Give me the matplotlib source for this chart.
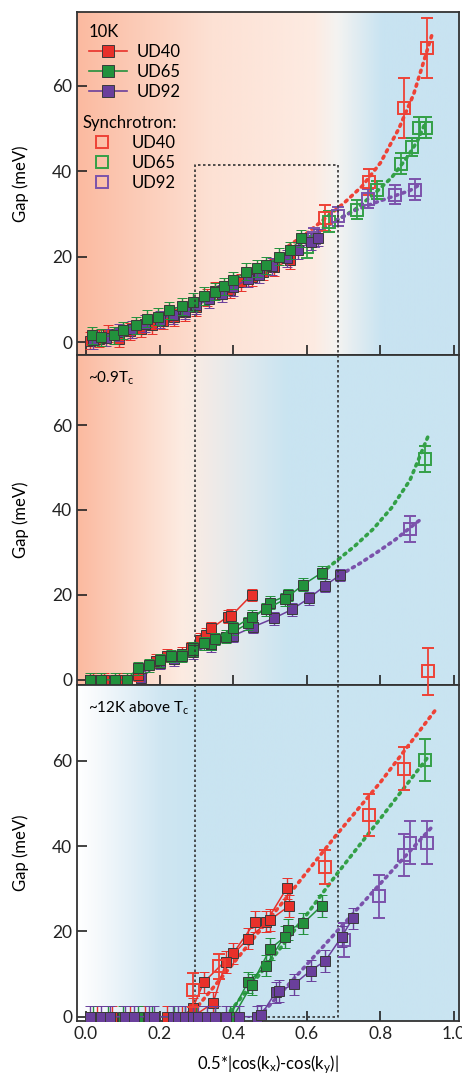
import numpy as np
import matplotlib
matplotlib.use("Agg")
import matplotlib.pyplot as plt
from matplotlib.colors import LinearSegmentedColormap
from matplotlib.lines import Line2D

plt.rcParams['font.family'] = ['Lato', 'DejaVu Sans']
plt.rcParams['mathtext.fontset'] = 'custom'
plt.rcParams['mathtext.rm'] = 'Lato'
plt.rcParams['mathtext.it'] = 'Lato:italic'

# ---- dados: painel 10K ----
top_ud40_x = [0.01, 0.035, 0.06, 0.09, 0.12, 0.15, 0.18, 0.21, 0.24, 0.27, 0.30, 0.33, 0.35, 0.39, 0.42, 0.45, 0.48, 0.51, 0.555]
top_ud40_y = [0.3, 0.8, 2.0, 0.8, 2.5, 3.2, 4.0, 5.0, 5.8, 7.0, 8.2, 10.5, 12.0, 12.3, 14.0, 15.2, 16.5, 17.5, 19.2]
top_ud65_x = [0.015, 0.04, 0.075, 0.10, 0.135, 0.165, 0.195, 0.225, 0.26, 0.29, 0.32, 0.35, 0.375, 0.40, 0.435, 0.465, 0.49, 0.525, 0.555, 0.585]
top_ud65_y = [1.6, 1.1, 1.6, 2.8, 4.0, 5.5, 6.0, 7.5, 8.4, 9.4, 10.8, 11.8, 13.1, 14.5, 16.5, 17.3, 18.0, 20.0, 21.5, 24.3]
top_ud92_x = [0.02, 0.055, 0.09, 0.125, 0.16, 0.20, 0.235, 0.27, 0.30, 0.335, 0.37, 0.40, 0.44, 0.47, 0.505, 0.545, 0.575, 0.61, 0.63]
top_ud92_y = [0.5, 1.0, 2.3, 3.0, 4.3, 5.3, 6.3, 7.4, 8.6, 10.0, 11.3, 12.8, 14.8, 15.8, 17.8, 19.6, 21.5, 23.5, 24.5]

syn_top_ud40_x = [0.65, 0.77, 0.865, 0.927]
syn_top_ud40_y = [29.0, 37.5, 54.8, 68.8]
syn_top_ud40_e = [3.0, 3.0, 7.0, 7.0]
syn_top_ud65_x = [0.60, 0.66, 0.735, 0.79, 0.855, 0.885, 0.905, 0.925]
syn_top_ud65_y = [22.3, 28.2, 31.0, 35.6, 41.8, 45.7, 50.2, 50.2]
syn_top_ud65_e = [2.5, 2.5, 2.2, 2.2, 2.5, 2.2, 2.5, 2.5]
syn_top_ud92_x = [0.62, 0.685, 0.765, 0.84, 0.893]
syn_top_ud92_y = [24.5, 29.5, 33.6, 34.5, 35.7]
syn_top_ud92_e = [2.2, 2.2, 2.2, 2.2, 2.5]

fit_top_ud40_x = [0.55, 0.60, 0.65, 0.70, 0.75, 0.80, 0.85, 0.89, 0.94]
fit_top_ud40_y = [22.5, 25.5, 29.0, 32.5, 36.5, 42.0, 50.0, 58.0, 72.0]
fit_top_ud65_x = [0.58, 0.63, 0.68, 0.73, 0.78, 0.83, 0.87, 0.90, 0.92]
fit_top_ud65_y = [23.0, 26.0, 28.5, 31.0, 34.5, 38.5, 43.0, 47.0, 51.0]
fit_top_ud92_x = [0.58, 0.63, 0.68, 0.73, 0.78, 0.83, 0.88, 0.905]
fit_top_ud92_y = [23.0, 26.0, 28.5, 30.8, 32.5, 34.0, 35.5, 36.8]

# ---- dados: painel ~0.9Tc ----
mid_ud40_x = [0.02, 0.05, 0.09, 0.14, 0.19, 0.22, 0.26, 0.285, 0.31, 0.325, 0.34, 0.385, 0.395, 0.45]
mid_ud40_y = [0, 0, 0, 1.2, 4.5, 5.7, 6.2, 7.4, 9.5, 10.6, 12.1, 14.9, 15.1, 20.0]
mid_ud65a_x = [0.01, 0.04, 0.08, 0.11, 0.14, 0.17, 0.20, 0.23, 0.26, 0.29, 0.32, 0.35, 0.40, 0.45, 0.49, 0.54, 0.59, 0.64]
mid_ud65a_y = [0, 0, 0, 0, 2.7, 3.4, 4.6, 5.6, 5.6, 7.1, 8.6, 9.6, 12.1, 14.9, 16.6, 19.0, 22.4, 25.2]
mid_ud65b_x = [0.29, 0.34, 0.38, 0.44, 0.50, 0.55]
mid_ud65b_y = [7.5, 8.5, 10.2, 13.3, 18.2, 20.0]
mid_ud92_x = [0.15, 0.20, 0.24, 0.29, 0.34, 0.40, 0.455, 0.51, 0.56, 0.605, 0.65, 0.69]
mid_ud92_y = [0.5, 4.0, 4.8, 6.5, 8.1, 10.4, 12.5, 14.5, 16.6, 19.2, 22.2, 24.7]

syn_mid_ud65_x = [0.92]
syn_mid_ud65_y = [52.0]
syn_mid_ud65_e = [3.0]
syn_mid_ud92_x = [0.88]
syn_mid_ud92_y = [35.5]
syn_mid_ud92_e = [3.0]

fit_mid_ud65_x = [0.64, 0.68, 0.73, 0.78, 0.83, 0.88, 0.93]
fit_mid_ud65_y = [25.2, 28.0, 31.5, 35.5, 40.5, 47.0, 57.5]
fit_mid_ud92_x = [0.69, 0.74, 0.79, 0.84, 0.89, 0.905]
fit_mid_ud92_y = [24.7, 27.2, 30.0, 33.0, 36.5, 37.5]

# ---- dados: painel ~12K acima de Tc ----
bot_ud40a_x = [0.03, 0.07, 0.12, 0.16, 0.22, 0.26, 0.29, 0.32, 0.40, 0.46, 0.49, 0.545]
bot_ud40a_y = [0, 0, 0, 0, 0, 0, 2.0, 8.1, 14.9, 22.3, 22.3, 30.1]
bot_ud40b_x = [0.29, 0.345, 0.38, 0.44, 0.50, 0.552]
bot_ud40b_y = [0, 3.2, 12.8, 18.3, 22.7, 26.0]
bot_ud65a_x = [0.02, 0.06, 0.10, 0.14, 0.18, 0.24, 0.27, 0.30, 0.35, 0.39, 0.44, 0.49, 0.55, 0.59, 0.64]
bot_ud65a_y = [0, 0, 0, 0, 0, 0, 0, 0, 0, 0, 8.1, 12.0, 20.4, 21.9, 26.0]
bot_ud65b_x = [0.40, 0.45, 0.50, 0.54]
bot_ud65b_y = [0, 7.5, 15.9, 18.7]
bot_ud92_x = [0.01, 0.04, 0.065, 0.105, 0.13, 0.17, 0.185, 0.235, 0.25, 0.27, 0.29, 0.305, 0.33, 0.35,
              0.38, 0.415, 0.465, 0.475, 0.515, 0.525, 0.565, 0.61, 0.65, 0.695, 0.725]
bot_ud92_y = [0, 0, 0, 0, 0, 0, 0, 0, 0, 0, 0, 0, 0, 0,
              0, 0, 0, 0.3, 5.7, 6.0, 7.6, 10.8, 13.1, 18.8, 23.1]

syn_bot_ud40_x = [0.29, 0.36, 0.65, 0.77, 0.865, 0.93]
syn_bot_ud40_y = [6.3, 11.8, 35.2, 47.3, 58.2, 81.0]
syn_bot_ud40_e = [4.0, 3.0, 4.0, 5.0, 5.0, 5.5]
syn_bot_ud65_x = [0.92]
syn_bot_ud65_y = [60.2]
syn_bot_ud65_e = [5.0]
syn_bot_ud92_x = [0.70, 0.795, 0.865, 0.88, 0.927]
syn_bot_ud92_y = [18.0, 28.2, 37.9, 40.8, 40.8]
syn_bot_ud92_e = [4.0, 5.0, 5.0, 5.0, 5.0]

fit_bot_ud40_x = [0.28, 0.40, 0.55, 0.68, 0.80, 0.95]
fit_bot_ud40_y = [0, 12.5, 28.5, 42.6, 55.0, 72.0]
fit_bot_ud65_x = [0.38, 0.50, 0.60, 0.68, 0.80, 0.93]
fit_bot_ud65_y = [0, 13.0, 24.0, 33.3, 46.5, 61.0]
fit_bot_ud92_x = [0.47, 0.55, 0.65, 0.75, 0.85, 0.94]
fit_bot_ud92_y = [0, 7.5, 17.0, 26.5, 36.0, 44.5]

# retangulo pontilhado
box_x = [0.295, 0.685]
box_top = 41.5

# ---- estilo ----
RED, GREEN, PURPLE = '#e8302a', '#22913c', '#6a3f9c'
RED_O, GREEN_O, PURPLE_O = '#ee4236', '#33a047', '#7b52ab'
EDGE = '#3a3a3a'

fig = plt.figure(figsize=(4.62, 10.78), dpi=100)
ax1 = fig.add_axes([0.1667, 0.6707, 0.827, 0.3182])
ax2 = fig.add_axes([0.1667, 0.3646, 0.827, 0.3061])
ax3 = fig.add_axes([0.1667, 0.0529, 0.827, 0.3117])
axes = [ax1, ax2, ax3]
ylims = [(-3.0, 77.3), (-1.2, 76.5), (-1.0, 77.8)]
xlim = (-0.0245, 1.0136)

# gradientes de fundo
grads = [
    [(0.0, '#fbbaa0'), (0.35, '#fde1d4'), (0.62, '#fdebe2'), (0.68, '#f4f3f1'), (0.80, '#c8e3f1'), (1.0, '#c8e3f1')],
    [(0.0, '#fbbaa0'), (0.27, '#fdebe1'), (0.33, '#f4ebe6'), (0.45, '#dde9ef'), (0.55, '#c9e4f1'), (1.0, '#c9e4f1')],
    [(0.0, '#ffffff'), (0.06, '#f4f8fb'), (0.22, '#cfe6f2'), (0.30, '#c9e4f1'), (1.0, '#c9e4f1')],
]
for ax, yl, g in zip(axes, ylims, grads):
    cmap = LinearSegmentedColormap.from_list('bg', g)
    xs = np.linspace(0, 1, 600)
    ax.imshow(xs[None, :], cmap=cmap, aspect='auto', origin='lower',
              extent=[xlim[0], xlim[1], yl[0], yl[1]], zorder=0, vmin=0, vmax=1)
    ax.set_xlim(*xlim)
    ax.set_ylim(*yl)
    ax.set_yticks([0, 20, 40, 60])
    ax.set_xticks([0.0, 0.2, 0.4, 0.6, 0.8, 1.0])
    ax.tick_params(direction='in', length=7, width=1.2, labelsize=12.5, colors='#222222')
    for s in ax.spines.values():
        s.set_linewidth(1.3)
        s.set_color('#333333')
    ax.set_ylabel('Gap (meV)', fontsize=12)
    ax.yaxis.set_label_coords(-0.125, 0.5)


def filled(ax, x, y, c, err, z):
    ax.errorbar(x, y, yerr=err, fmt='s-', color=c, ms=7, mec=EDGE, mew=0.7,
                lw=1.1, elinewidth=1.0, capsize=3.5, capthick=1.0, zorder=z)


def opened(ax, x, y, e, c, z=5, clip=True):
    eb = ax.errorbar(x, y, yerr=e, fmt='s', color=c, ms=9, mfc='none', mec=c, mew=1.4,
                     elinewidth=1.3, capsize=4, capthick=1.3, zorder=z)
    if not clip:
        for art in eb.get_children():
            art.set_clip_on(False)


def fit(ax, x, y, c):
    ax.plot(x, y, color=c, lw=2.6, ls=(0, (0.6, 1.4)), dash_capstyle='round', zorder=4)


# painel 10K
filled(ax1, top_ud40_x, top_ud40_y, RED, 2.0, 6)
filled(ax1, top_ud92_x, top_ud92_y, PURPLE, 2.0, 7)
filled(ax1, top_ud65_x, top_ud65_y, GREEN, 2.0, 8)
fit(ax1, fit_top_ud40_x, fit_top_ud40_y, RED_O)
fit(ax1, fit_top_ud65_x, fit_top_ud65_y, GREEN_O)
fit(ax1, fit_top_ud92_x, fit_top_ud92_y, PURPLE_O)
opened(ax1, syn_top_ud40_x, syn_top_ud40_y, syn_top_ud40_e, RED_O)
opened(ax1, syn_top_ud65_x, syn_top_ud65_y, syn_top_ud65_e, GREEN_O)
opened(ax1, syn_top_ud92_x, syn_top_ud92_y, syn_top_ud92_e, PURPLE_O)

# painel ~0.9Tc
filled(ax2, mid_ud92_x, mid_ud92_y, PURPLE, 1.5, 6)
filled(ax2, mid_ud40_x, mid_ud40_y, RED, 1.5, 7)
filled(ax2, mid_ud65b_x, mid_ud65b_y, GREEN, 1.5, 8)
filled(ax2, mid_ud65a_x, mid_ud65a_y, GREEN, 1.5, 8)
fit(ax2, fit_mid_ud65_x, fit_mid_ud65_y, GREEN_O)
fit(ax2, fit_mid_ud92_x, fit_mid_ud92_y, PURPLE_O)
opened(ax2, syn_mid_ud65_x, syn_mid_ud65_y, syn_mid_ud65_e, GREEN_O)
opened(ax2, syn_mid_ud92_x, syn_mid_ud92_y, syn_mid_ud92_e, PURPLE_O)

# painel ~12K acima de Tc
fit(ax3, fit_bot_ud40_x, fit_bot_ud40_y, RED_O)
fit(ax3, fit_bot_ud65_x, fit_bot_ud65_y, GREEN_O)
fit(ax3, fit_bot_ud92_x, fit_bot_ud92_y, PURPLE_O)
filled(ax3, bot_ud40a_x, bot_ud40a_y, RED, 2.5, 6)
filled(ax3, bot_ud40b_x, bot_ud40b_y, RED, 2.5, 6)
filled(ax3, bot_ud65a_x, bot_ud65a_y, GREEN, 2.5, 7)
filled(ax3, bot_ud65b_x, bot_ud65b_y, GREEN, 2.5, 7)
filled(ax3, bot_ud92_x, bot_ud92_y, PURPLE, 2.5, 8)
opened(ax3, syn_bot_ud40_x, syn_bot_ud40_y, syn_bot_ud40_e, RED_O, z=9, clip=False)
opened(ax3, syn_bot_ud65_x, syn_bot_ud65_y, syn_bot_ud65_e, GREEN_O)
opened(ax3, syn_bot_ud92_x, syn_bot_ud92_y, syn_bot_ud92_e, PURPLE_O)

ax1.tick_params(labelbottom=False)
ax2.tick_params(labelbottom=False)
ax3.set_xlabel(r'0.5*|cos(k$_\mathrm{x}$)-cos(k$_\mathrm{y}$)|', fontsize=12, labelpad=8)

ax2.text(0.03, 0.955, r'~0.9T$_\mathrm{c}$', transform=ax2.transAxes, fontsize=11, va='top')
ax3.text(0.03, 0.955, r'~12K above T$_\mathrm{c}$', transform=ax3.transAxes, fontsize=11, va='top')

# retangulo pontilhado atravessando os tres paineis
y_top = ax3.transData.inverted().transform(ax1.transData.transform((0, box_top)))[1]
ax3.plot([box_x[0], box_x[0], box_x[1], box_x[1], box_x[0]],
         [0, y_top, y_top, 0, 0], color='#333333', lw=1.2, ls=(0, (1.5, 1.5)),
         clip_on=False, zorder=3)

# legendas
h1 = [Line2D([], [], color=c, marker='s', ms=8, mec=EDGE, mew=0.7, lw=1.2) for c in (RED, GREEN, PURPLE)]
leg1 = ax1.legend(h1, ['UD40', 'UD65', 'UD92'], loc='upper left', bbox_to_anchor=(0.0, 1.0),
                  frameon=False, title='10K', alignment='left', fontsize=12, title_fontsize=12,
                  handlelength=2.3, labelspacing=0.25, borderaxespad=0.3, handletextpad=0.6)
ax1.add_artist(leg1)
h2 = [Line2D([], [], ls='none', marker='s', ms=8, mfc='none', mec=c, mew=1.4) for c in (RED_O, GREEN_O, PURPLE_O)]
ax1.legend(h2, ['UD40', 'UD65', 'UD92'], loc='upper left', bbox_to_anchor=(-0.015, 0.735),
           frameon=False, title='Synchrotron:', alignment='left', fontsize=12, title_fontsize=12,
           handlelength=2.3, labelspacing=0.25, borderaxespad=0.3, handletextpad=0.6)

fig.savefig('out.png', dpi=100)
